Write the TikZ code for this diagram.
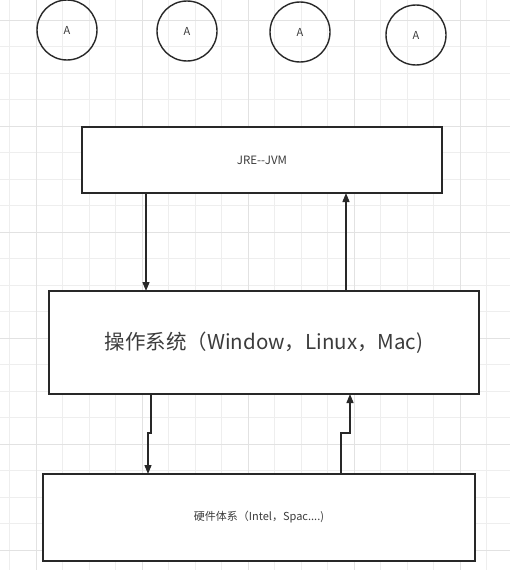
\documentclass[tikz,border=0pt]{standalone}
\usepackage{fontspec}
\setmainfont{Noto Sans CJK SC}
\usetikzlibrary{arrows.meta}
\definecolor{gridminor}{RGB}{238,238,238}
\definecolor{gridmajor}{RGB}{226,226,226}
\definecolor{linec}{RGB}{40,40,40}
\definecolor{textc}{RGB}{60,60,60}
\tikzset{
  circ/.style={circle, draw=linec, line width=1.4pt, minimum size=60pt, inner sep=0pt, text=textc, font=\fontsize{11}{12}\selectfont},
  layer/.style={draw=linec, line width=1.4pt, fill=white, inner sep=0pt, text=textc},
  conn/.style={draw=linec, line width=1.3pt, -{Triangle[length=9pt,width=7pt]}}
}
\begin{document}
\begin{tikzpicture}[x=1pt,y=-1pt]
\useasboundingbox (0,0) rectangle (510,570);
\fill[white] (0,0) rectangle (510,570);
\foreach \i in {0,...,19} { \draw[gridminor, line width=0.6pt] ({9.5+26.5*\i},0) -- ({9.5+26.5*\i},570); }
\foreach \j in {0,...,21} { \draw[gridminor, line width=0.6pt] (0,{20+26.5*\j}) -- (510,{20+26.5*\j}); }
\foreach \i in {0,...,4} { \draw[gridmajor, line width=0.8pt] ({36+106*\i},0) -- ({36+106*\i},570); }
\foreach \j in {0,...,5} { \draw[gridmajor, line width=0.8pt] (0,{20+106*\j}) -- (510,{20+106*\j}); }

\node[circ] (c1) at (67,30) {A};
\node[circ] (c2) at (187,31) {A};
\node[circ] (c3) at (300,32) {A};
\node[circ] (c4) at (416,35) {A};

\node[layer, minimum width=360pt, minimum height=66pt, font=\fontsize{11.5}{13}\selectfont] (jre) at (262,160) {JRE-{}-JVM};
\node[layer, minimum width=430pt, minimum height=103pt, font=\fontsize{20.5}{23}\selectfont] (os) at (264,342.5) {操作系统（Window，Linux，Mac)};
\node[layer, minimum width=432pt, minimum height=87pt, font=\fontsize{11}{13}\selectfont] (hw) at (259,517.5) {硬件体系（Intel，Spac....)};

\coordinate (a1) at (146,193);
\coordinate (a2) at (146,291);
\coordinate (b1) at (346,291);
\coordinate (b2) at (346,193);
\draw[conn] (a1) -- (a2);
\draw[conn] (b1) -- (b2);

\coordinate (d1) at (151,394);
\coordinate (d2) at (148,474);
\coordinate (u1) at (341,474);
\coordinate (u2) at (350,394);
\draw[conn] (d1) -- (151,433) -- (148,433) -- (d2);
\draw[conn] (u1) -- (341,433) -- (350,433) -- (u2);
\end{tikzpicture}
\end{document}
